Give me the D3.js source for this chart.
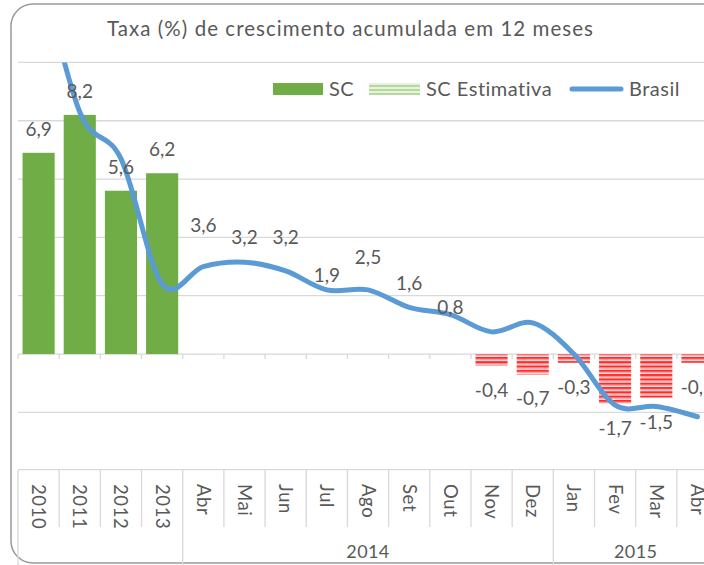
<!DOCTYPE html>
<html>
<head>
<meta charset="utf-8">
<script src="https://cdn.jsdelivr.net/npm/d3@7"></script>
<style>
  body { margin: 0; background: #fff; }
  svg text { font-family: Lato, "Open Sans", sans-serif; fill: #595959; }
</style>
</head>
<body>
<div id="chart"></div>
<script>
// categories (x axis)
const categories = ["2010", "2011", "2012", "2013", "Abr", "Mai", "Jun", "Jul", "Ago", "Set", "Out", "Nov", "Dez", "Jan", "Fev", "Mar", "Abr"];
// group labels under the months
const groups = [
  { label: "", from: 0, to: 4 },
  { label: "2014", from: 4, to: 13 },
  { label: "2015", from: 13, to: 17 }
];
// SC (annual, realised)
const scValues = [6.9, 8.2, 5.6, 6.2, null, null, null, null, null, null, null, null, null, null, null, null, null];
// SC Estimativa (monthly)
const scEstimativa = [null, null, null, null, 3.6, 3.2, 3.2, 1.9, 2.5, 1.6, 0.8, -0.4, -0.7, -0.3, -1.7, -1.5, -0.3];
// Brasil line
const brasil = [13.6, 8.3, 6.7, 2.4, 3.0, 3.15, 2.85, 2.2, 2.2, 1.6, 1.35, 0.76, 1.07, 0.0, -1.75, -1.8, -2.15];

var width = 704, height = 565;
var plotLeft = 18, plotTop = 62.4, plotBottom = 470.7;

var svg = d3.select("#chart").append("svg")
  .attr("width", width)
  .attr("height", height);

var defs = svg.append("defs");

// red horizontal hatch for negative estimates
var red = defs.append("pattern").attr("id", "hatchRed")
  .attr("patternUnits", "userSpaceOnUse").attr("width", 8).attr("height", 4.3);
red.append("rect").attr("width", 8).attr("height", 4.3).attr("fill", "#ffe3e3");
red.append("rect").attr("width", 8).attr("height", 2.2).attr("fill", "#ff2b2b");
red.append("rect").attr("y", 2.2).attr("width", 8).attr("height", 1).attr("fill", "#ff9d9d");

// green hatch for the legend swatch
var green = defs.append("pattern").attr("id", "hatchGreen")
  .attr("patternUnits", "userSpaceOnUse").attr("width", 8).attr("height", 4);
green.append("rect").attr("width", 8).attr("height", 4).attr("fill", "#e6f1de");
green.append("rect").attr("width", 8).attr("height", 2).attr("fill", "#b5d89d");

defs.append("clipPath").attr("id", "plotClip")
  .append("rect").attr("x", plotLeft).attr("y", plotTop)
  .attr("width", 720).attr("height", plotBottom - plotTop);

var x = d3.scaleBand()
  .domain(d3.range(categories.length))
  .range([plotLeft, plotLeft + 41.18 * categories.length])
  .paddingInner(0.22)
  .paddingOuter(0.11);

var y = d3.scaleLinear().domain([-4, 10]).range([plotBottom, plotTop]);

var step = x.step();
var edge = i => plotLeft + i * step;

// chart frame
svg.append("rect")
  .attr("x", 11).attr("y", 4).attr("width", 740).attr("height", 559)
  .attr("rx", 22)
  .attr("fill", "none").attr("stroke", "#9a9a9a").attr("stroke-width", 1.5);

// title
svg.append("text")
  .attr("x", 350).attr("y", 36)
  .attr("text-anchor", "middle")
  .attr("textLength", 486).attr("lengthAdjust", "spacing")
  .style("font-size", "20.5px")
  .text("Taxa (%) de crescimento acumulada em 12 meses");

// gridlines
svg.append("g").selectAll("line")
  .data([-2, 2, 4, 6, 8, 10])
  .enter().append("line")
  .attr("x1", plotLeft).attr("x2", width)
  .attr("y1", d => y(d)).attr("y2", d => y(d))
  .attr("stroke", "#d9d9d9").attr("stroke-width", 1.3);

// zero axis with small ticks
svg.append("line")
  .attr("x1", plotLeft).attr("x2", width)
  .attr("y1", y(0)).attr("y2", y(0))
  .attr("stroke", "#d9d9d9").attr("stroke-width", 1.3);
svg.append("g").selectAll("line")
  .data(d3.range(categories.length + 1))
  .enter().append("line")
  .attr("x1", d => edge(d)).attr("x2", d => edge(d))
  .attr("y1", y(0)).attr("y2", y(0) + 5)
  .attr("stroke", "#d9d9d9").attr("stroke-width", 1.3);

// SC bars
svg.append("g").selectAll("rect")
  .data(scValues.map((v, i) => ({ v, i })).filter(d => d.v != null))
  .enter().append("rect")
  .attr("x", d => x(d.i))
  .attr("width", x.bandwidth())
  .attr("y", d => y(Math.max(0, d.v)))
  .attr("height", d => Math.abs(y(d.v) - y(0)))
  .attr("fill", "#70ad47");

// SC Estimativa bars (positive ones are not filled in the original)
svg.append("g").selectAll("rect")
  .data(scEstimativa.map((v, i) => ({ v, i })).filter(d => d.v != null))
  .enter().append("rect")
  .attr("x", d => x(d.i))
  .attr("width", x.bandwidth())
  .attr("y", d => y(Math.max(0, d.v)))
  .attr("height", d => Math.abs(y(d.v) - y(0)))
  .attr("fill", d => d.v < 0 ? "url(#hatchRed)" : "none");

// Brasil line
var line = d3.line()
  .x((d, i) => x(i) + x.bandwidth() / 2)
  .y(d => y(d))
  .curve(d3.curveCardinal.tension(0));

svg.append("path")
  .datum(brasil)
  .attr("clip-path", "url(#plotClip)")
  .attr("d", line)
  .attr("fill", "none")
  .attr("stroke", "#5b9bd5")
  .attr("stroke-width", 5)
  .attr("stroke-linecap", "round");

// value labels
var fmt = v => v.toFixed(1).replace(".", ",");
var labelData = [];
scValues.forEach((v, i) => { if (v != null) labelData.push({ v, i }); });
scEstimativa.forEach((v, i) => { if (v != null) labelData.push({ v, i }); });

svg.append("g").selectAll("text")
  .data(labelData)
  .enter().append("text")
  .attr("x", d => x(d.i) + x.bandwidth() / 2)
  .attr("y", d => d.v >= 0 ? y(d.v) - 17 : y(d.v) + 31)
  .attr("text-anchor", "middle")
  .style("font-size", "19px")
  .text(d => fmt(d.v));

// category axis
var axisY = plotBottom - 1;
svg.append("line")
  .attr("x1", plotLeft).attr("x2", width)
  .attr("y1", axisY).attr("y2", axisY)
  .attr("stroke", "#d9d9d9").attr("stroke-width", 1.3);

var groupEdges = new Set(groups.map(g => g.from).concat(groups.map(g => g.to)));
svg.append("g").selectAll("line")
  .data(d3.range(categories.length + 1))
  .enter().append("line")
  .attr("x1", d => edge(d)).attr("x2", d => edge(d))
  .attr("y1", axisY)
  .attr("y2", d => groupEdges.has(d) ? height : 527)
  .attr("stroke", "#d9d9d9").attr("stroke-width", 1.3);

svg.append("g").selectAll("text")
  .data(categories)
  .enter().append("text")
  .attr("transform", (d, i) => "translate(" + (x(i) + x.bandwidth() / 2 - 6.5) + "," + 484 + ") rotate(90)")
  .attr("text-anchor", "start")
  .style("font-size", "18.5px")
  .style("letter-spacing", "0.6px")
  .text(d => d);

svg.append("g").selectAll("text")
  .data(groups.filter(g => g.label))
  .enter().append("text")
  .attr("x", d => (edge(d.from) + edge(d.to)) / 2)
  .attr("y", 558)
  .attr("text-anchor", "middle")
  .style("font-size", "18px")
  .style("letter-spacing", "0.4px")
  .text(d => d.label);

// legend
var lg = svg.append("g").attr("transform", "translate(0,89)");
lg.append("rect").attr("x", 273).attr("y", -6).attr("width", 50).attr("height", 12).attr("fill", "#70ad47");
lg.append("text").attr("x", 329).attr("y", 7).style("font-size", "20px").style("letter-spacing", "0.5px").text("SC");
lg.append("rect").attr("x", 369).attr("y", -6).attr("width", 51).attr("height", 12).attr("fill", "url(#hatchGreen)");
lg.append("text").attr("x", 426).attr("y", 7).style("font-size", "20px").style("letter-spacing", "0.5px").text("SC Estimativa");
lg.append("line").attr("x1", 572).attr("x2", 621).attr("y1", 0).attr("y2", 0)
  .attr("stroke", "#5b9bd5").attr("stroke-width", 5).attr("stroke-linecap", "round");
lg.append("text").attr("x", 629).attr("y", 7).style("font-size", "20px").style("letter-spacing", "0.5px").text("Brasil");
</script>
</body>
</html>
